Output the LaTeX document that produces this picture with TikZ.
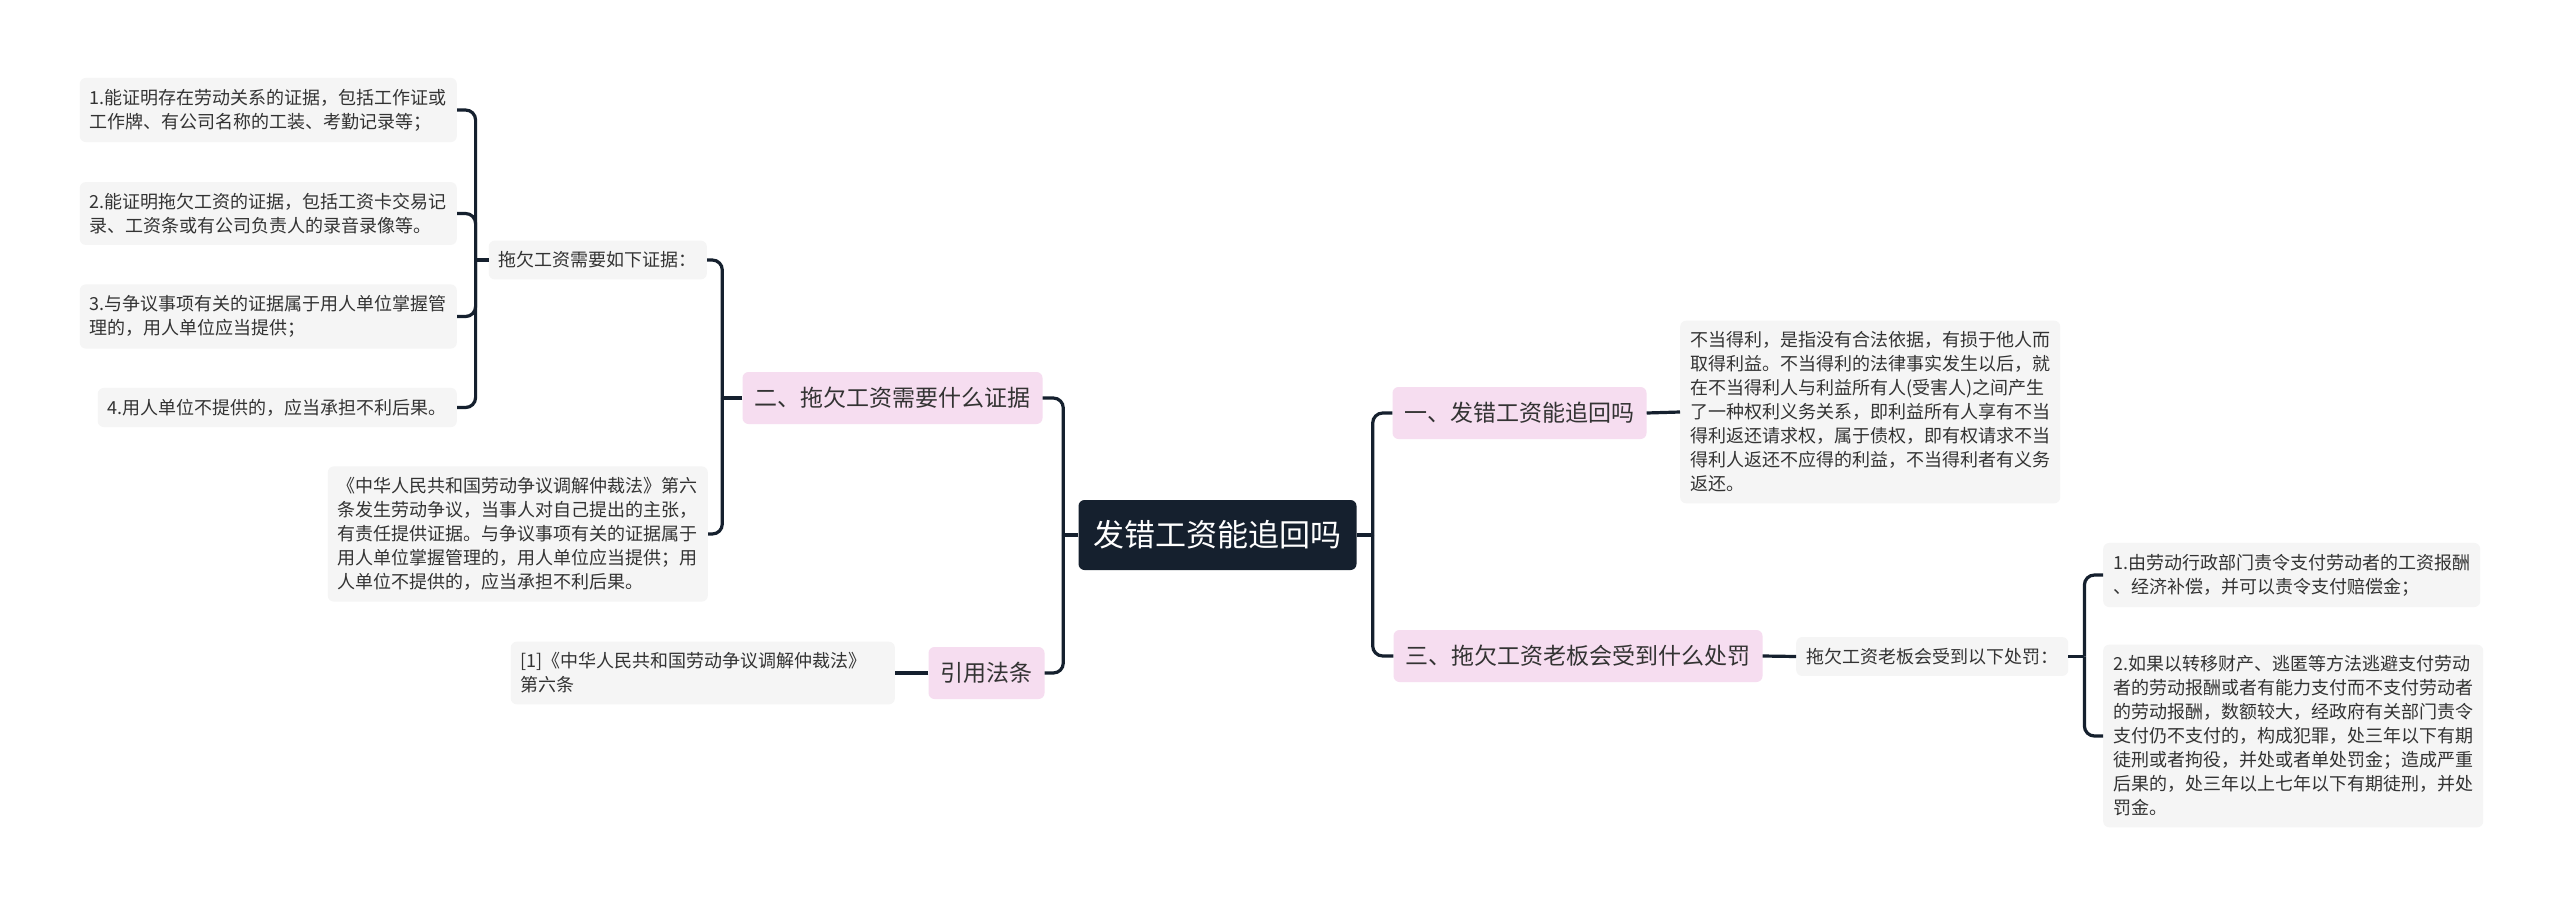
\documentclass[tikz,border=0pt]{standalone}
\usepackage{fontspec}
\setmainfont{Noto Sans CJK SC}
\usetikzlibrary{positioning}
\definecolor{navy}{HTML}{15202E}
\definecolor{pinkfill}{HTML}{F6DDF0}
\definecolor{leaffill}{HTML}{F5F5F5}
\definecolor{inkgray}{HTML}{333333}
\tikzset{
  rootbox/.style={
    fill = navy,
    text = white,
    rounded corners = 6pt,
    inner xsep = 15pt,
    minimum height = 70pt,
    font = \fontsize{31}{36}\selectfont
  },
  topic/.style={
    fill = pinkfill,
    text = inkgray,
    rounded corners = 6pt,
    inner xsep = 12pt,
    minimum height = 52pt,
    font = \fontsize{23}{28}\selectfont
  },
  leaf/.style={
    fill = leaffill,
    text = inkgray,
    rounded corners = 6pt,
    inner xsep = 10pt,
    inner ysep = 11pt,
    align = left,
    font = \fontsize{18}{24}\selectfont
  },
  link/.style={
    draw = navy,
    line width = 3.2pt,
    rounded corners = 10pt
  }
}

\begin{document}
\begin{tikzpicture}[x=1pt, y=-1pt]
        \path[fill=white, use as bounding box] (0,0) rectangle (2560,905);

        % centre
        \node[rootbox] (root) at (1217.5,535) {发错工资能追回吗};

        % left side
        \node[topic] (evid) at (892.5,398) {二、拖欠工资需要什么证据};
        \node[topic] (cite) at (986.5,673) {引用法条};

        \node[leaf, anchor=east] (evlist) at (707,260) {拖欠工资需要如下证据：};
        \node[leaf, anchor=east] (item1) at (457,110) {1.能证明存在劳动关系的证据，包括工作证或\\工作牌、有公司名称的工装、考勤记录等；};
        \node[leaf, anchor=east] (item2) at (457,213.5) {2.能证明拖欠工资的证据，包括工资卡交易记\\录、工资条或有公司负责人的录音录像等。};
        \node[leaf, anchor=east] (item3) at (457,316.5) {3.与争议事项有关的证据属于用人单位掌握管\\理的，用人单位应当提供；};
        \node[leaf, anchor=east] (item4) at (457,407.5) {4.用人单位不提供的，应当承担不利后果。};
        \node[leaf, anchor=east] (lawtext) at (708,534) {《中华人民共和国劳动争议调解仲裁法》第六\\条发生劳动争议，当事人对自己提出的主张，\\有责任提供证据。与争议事项有关的证据属于\\用人单位掌握管理的，用人单位应当提供；用\\人单位不提供的，应当承担不利后果。};
        \node[leaf, anchor=east, text width=364pt] (citetext) at (895,673) {[1]《中华人民共和国劳动争议调解仲裁法》\\第六条};

        % right side
        \node[topic] (recover) at (1519.5,413) {一、发错工资能追回吗};
        \node[topic] (penalty) at (1578,656) {三、拖欠工资老板会受到什么处罚};

        \node[leaf, anchor=west] (unjust) at (1680,412) {不当得利，是指没有合法依据，有损于他人而\\取得利益。不当得利的法律事实发生以后，就\\在不当得利人与利益所有人(受害人)之间产生\\了一种权利义务关系，即利益所有人享有不当\\得利返还请求权，属于债权，即有权请求不当\\得利人返还不应得的利益，不当得利者有义务\\返还。};
        \node[leaf, anchor=west] (penlist) at (1796,656.5) {拖欠工资老板会受到以下处罚：};
        \node[leaf, anchor=west] (pen1) at (2103,575) {1.由劳动行政部门责令支付劳动者的工资报酬\\、经济补偿，并可以责令支付赔偿金；};
        \node[leaf, anchor=west] (pen2) at (2103,736) {2.如果以转移财产、逃匿等方法逃避支付劳动\\者的劳动报酬或者有能力支付而不支付劳动者\\的劳动报酬，数额较大，经政府有关部门责令\\支付仍不支付的，构成犯罪，处三年以下有期\\徒刑或者拘役，并处或者单处罚金；造成严重\\后果的，处三年以上七年以下有期徒刑，并处\\罚金。};

        % junctions
        \coordinate (rootL) at ([xshift=-15pt]root.west);
        \coordinate (rootR) at ([xshift=16pt]root.east);
        \coordinate (evidL) at ([xshift=-20pt]evid.west);
        \coordinate (evlistL) at ([xshift=-13pt]evlist.west);
        \coordinate (penlistR) at ([xshift=16pt]penlist.east);

        % connectors
        \draw[link] (root.west) -- (rootL);
        \draw[link] (rootL) |- (evid.east);
        \draw[link] (rootL) |- (cite.east);
        \draw[link] (root.east) -- (rootR);
        \draw[link] (rootR) |- (recover.west);
        \draw[link] (rootR) |- (penalty.west);

        \draw[link] (evid.west) -- (evidL);
        \draw[link] (evidL) |- (evlist.east);
        \draw[link] (evidL) |- (lawtext.east);
        \draw[link] (evlist.west) -- (evlistL);
        \foreach \n in {item1,item2,item3,item4}
            \draw[link] (evlistL) |- (\n.east);
        \draw[link] (cite.west) -- (citetext.east);

        \draw[link] (recover.east) -- (unjust.west);
        \draw[link] (penalty.east) -- (penlist.west);
        \draw[link] (penlist.east) -- (penlistR);
        \draw[link] (penlistR) |- (pen1.west);
        \draw[link] (penlistR) |- (pen2.west);
\end{tikzpicture}
\end{document}
